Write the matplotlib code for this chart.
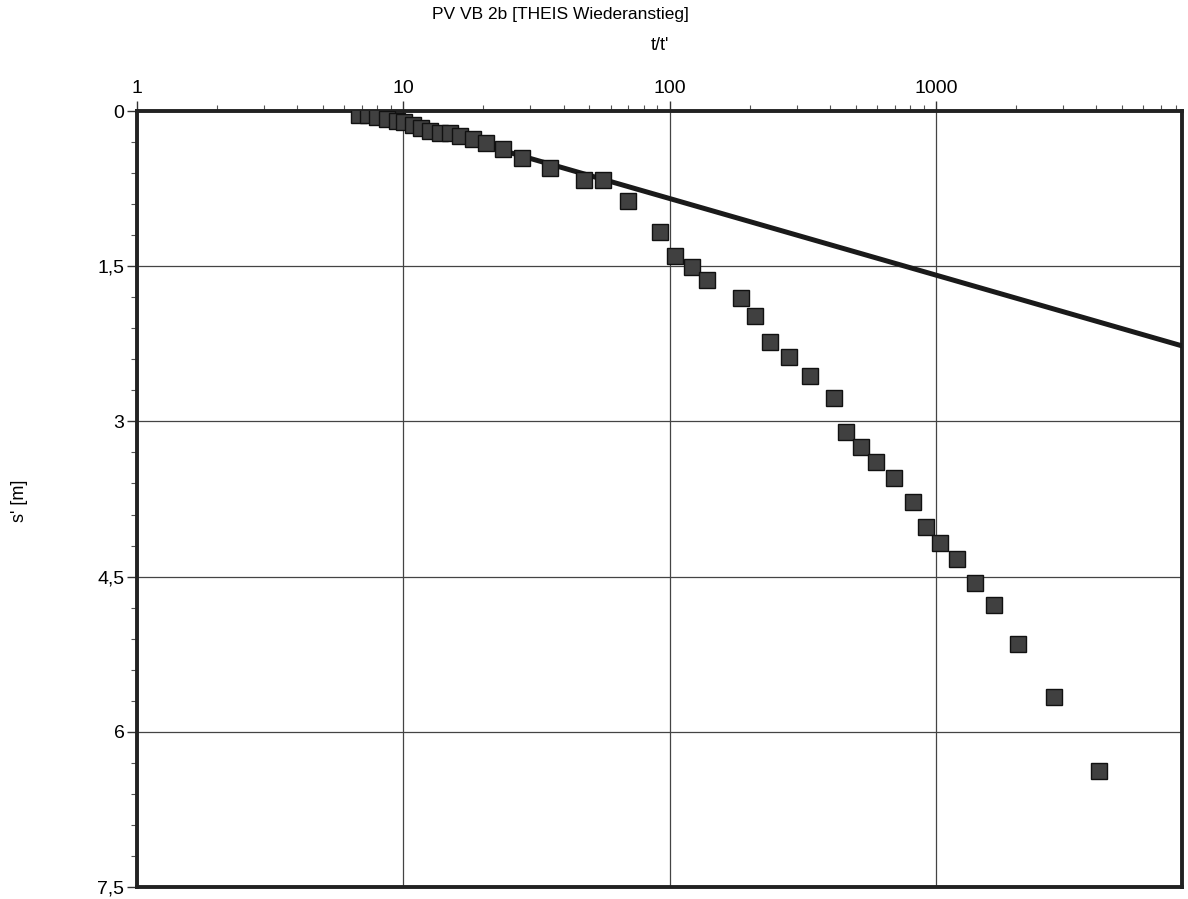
import matplotlib
matplotlib.use("Agg")
import matplotlib.pyplot as plt
from matplotlib.ticker import FixedLocator, FixedFormatter, LogLocator, NullFormatter

plt.rcParams['font.family'] = ['Liberation Sans', 'DejaVu Sans']

t_ratio = [6.8, 7.4, 8.0, 8.7, 9.5, 10.1, 10.9, 11.7, 12.6, 13.7, 15.0, 16.3,
           18.3, 20.5, 23.7, 28.0, 35.5, 47.6, 56.0, 70.0, 92.0, 105.0, 121.0,
           138.0, 185.0, 210.0, 238.0, 280.0, 336.0, 414.0, 458.0, 525.0,
           594.0, 695.0, 820.0, 920.0, 1035.0, 1200.0, 1400.0, 1650.0, 2040.0,
           2770.0, 4100.0]
s_rest = [0.04, 0.04, 0.06, 0.08, 0.10, 0.11, 0.14, 0.16, 0.19, 0.21, 0.21,
          0.24, 0.27, 0.31, 0.37, 0.45, 0.55, 0.67, 0.67, 0.87, 1.17, 1.40,
          1.51, 1.63, 1.81, 1.98, 2.23, 2.38, 2.56, 2.77, 3.10, 3.25, 3.39,
          3.55, 3.78, 4.02, 4.18, 4.33, 4.56, 4.77, 5.15, 5.66, 6.38]

# Theis-Gerade
fit_t = [7.2, 8400]
fit_s = [0.0, 2.27]

y_ticks = [0, 1.5, 3, 4.5, 6, 7.5]
y_labels = ["0", "1,5", "3", "4,5", "6", "7,5"]
x_ticks = [1, 10, 100, 1000]
x_labels = ["1", "10", "100", "1000"]

fig = plt.figure(figsize=(11.88, 8.99), dpi=100)
ax = fig.add_axes([137/1188, 12/899, (1182-137)/1188, (887-111)/899])

ax.set_xscale("log")
ax.set_xlim(1, 8400)
ax.set_ylim(7.5, 0)

ax.plot(fit_t, fit_s, color="#1a1a1a", lw=3.6, zorder=3)
ax.plot(t_ratio, s_rest, ls="none", marker="s", markersize=12,
        markerfacecolor="#404040", markeredgecolor="#111111",
        markeredgewidth=1.0, zorder=4)

ax.xaxis.tick_top()
ax.xaxis.set_label_position("top")
ax.xaxis.set_major_locator(FixedLocator(x_ticks))
ax.xaxis.set_major_formatter(FixedFormatter(x_labels))
ax.xaxis.set_minor_locator(LogLocator(base=10, subs=range(2, 10)))
ax.xaxis.set_minor_formatter(NullFormatter())
ax.yaxis.set_major_locator(FixedLocator(y_ticks))
ax.yaxis.set_major_formatter(FixedFormatter(y_labels))
ax.yaxis.set_minor_locator(FixedLocator([0.3 * i for i in range(26)]))

ax.tick_params(axis="both", which="major", labelsize=14, direction="out",
               length=7, width=1, color="#333333")
ax.tick_params(axis="both", which="minor", direction="out", length=4,
               width=0.8, color="#555555")
ax.tick_params(axis="x", which="major", pad=3)
ax.tick_params(axis="y", which="major", pad=2)

ax.grid(True, which="major", color="#444444", lw=0.9)
for sp in ax.spines.values():
    sp.set_linewidth(2.8)
    sp.set_color("#222222")

ax.set_xlabel("t/t'", fontsize=13, labelpad=22)
fig.text(20/1188, 1 - 501/899, "s' [m]", rotation=90, fontsize=13,
         ha="center", va="center")
fig.text(560/1188, 1 - 15/899, "PV VB 2b [THEIS Wiederanstieg]",
         fontsize=12.5, ha="center", va="center")

fig.savefig("out.png", dpi=100)
